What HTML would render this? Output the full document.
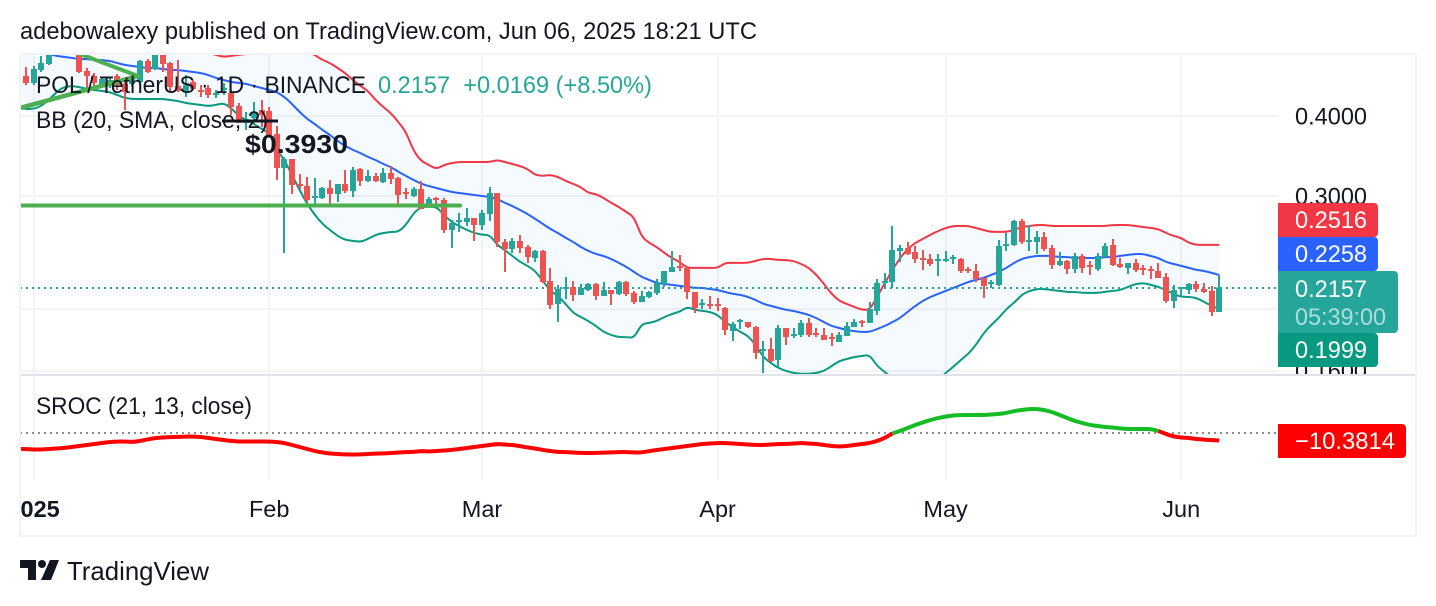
<!DOCTYPE html>
<html lang="en">
<head>
<meta charset="utf-8">
<title>POL / TetherUS chart</title>
<style>
html,body{margin:0;padding:0;background:#fff;width:1436px;height:606px;overflow:hidden}
svg{display:block;font-family:"Liberation Sans",sans-serif}
text{white-space:pre}
</style>
</head>
<body>
<svg id="root" xmlns="http://www.w3.org/2000/svg" width="1436" height="606" viewBox="0 0 1436 606">
  <defs>
    <clipPath id="clip-price"><rect x="20" y="55" width="1258" height="319"/></clipPath>
    <clipPath id="clip-osc"><rect x="20" y="376" width="1258" height="104"/></clipPath>
    <clipPath id="clip-axis-price"><rect x="1278" y="55" width="138" height="319"/></clipPath>
    <clipPath id="clip-axis-time"><rect x="20" y="482" width="1258" height="52"/></clipPath>
  </defs>

  <rect x="0" y="0" width="1436" height="606" fill="#ffffff"/>
  <text x="20" y="39" font-size="24" fill="#131722" textLength="737" lengthAdjust="spacingAndGlyphs">adebowalexy published on TradingView.com, Jun 06, 2025 18:21 UTC</text>

  <g id="grid"></g>
  <g id="bands" clip-path="url(#clip-price)"></g>
  <line id="lastLine" x1="20" x2="1278" stroke="#26a69a" stroke-width="2" stroke-dasharray="2 4"/>
  <g id="candles" clip-path="url(#clip-price)"></g>

  <g clip-path="url(#clip-price)">
    <line x1="20" y1="205.5" x2="460" y2="205.5" stroke="#4caf50" stroke-width="4" stroke-linecap="round"/>
    <line x1="20" y1="108" x2="138" y2="76" stroke="#4caf50" stroke-width="4.5" stroke-linecap="round"/>
    <line x1="80" y1="54" x2="138" y2="76" stroke="#4caf50" stroke-width="4" stroke-linecap="round"/>
    <line x1="222" y1="121" x2="278" y2="121" stroke="#131722" stroke-width="3"/>
    <text x="245" y="153" font-size="26" font-weight="700" fill="#131722" textLength="103" lengthAdjust="spacingAndGlyphs">$0.3930</text>
  </g>

  <g>
    <text x="36" y="93" font-size="24" fill="#131722" textLength="330" lengthAdjust="spacingAndGlyphs">POL / TetherUS · 1D · BINANCE</text>
    <text x="378" y="93" font-size="24" fill="#26a69a" textLength="274" lengthAdjust="spacingAndGlyphs">0.2157  +0.0169 (+8.50%)</text>
    <text x="36" y="128" font-size="24" fill="#131722" textLength="232" lengthAdjust="spacingAndGlyphs">BB (20, SMA, close, 2)</text>
  </g>

  <line x1="20" y1="433" x2="1278" y2="433" stroke="#8a8d96" stroke-width="2" stroke-dasharray="2 4"/>
  <g id="osc" clip-path="url(#clip-osc)"></g>
  <text x="36" y="414" font-size="24" fill="#131722" textLength="216" lengthAdjust="spacingAndGlyphs">SROC (21, 13, close)</text>

  <rect x="20" y="374" width="1397" height="2" fill="#e0e3eb"/>
  <g fill="#f3f3f4">
    <rect x="19" y="53" width="1398" height="2"/>
    <rect x="19" y="53" width="2" height="484"/>
    <rect x="1415" y="53" width="2" height="484"/>
    <rect x="19" y="535" width="1398" height="2"/>
  </g>

  <g id="priceAxis" clip-path="url(#clip-axis-price)"></g>
  <g id="timeAxis" clip-path="url(#clip-axis-time)"></g>

  <g font-size="24" fill="#ffffff">
    <g>
      <path d="M1278 203H1374a4 4 0 0 1 4 4V233a4 4 0 0 1-4 4H1278Z" fill="#f23645"/>
      <text x="1295" y="228" textLength="72" lengthAdjust="spacingAndGlyphs">0.2516</text>
    </g>
    <g>
      <path d="M1278 237H1374a4 4 0 0 1 4 4V267a4 4 0 0 1-4 4H1278Z" fill="#2962ff"/>
      <text x="1295" y="262" textLength="72" lengthAdjust="spacingAndGlyphs">0.2258</text>
    </g>
    <g>
      <path d="M1278 333H1374a4 4 0 0 1 4 4V363a4 4 0 0 1-4 4H1278Z" fill="#089981"/>
      <text x="1295" y="358" textLength="72" lengthAdjust="spacingAndGlyphs">0.1999</text>
    </g>
    <g>
      <path d="M1278 271H1394a4 4 0 0 1 4 4V329a4 4 0 0 1-4 4H1278Z" fill="#26a69a"/>
      <text x="1295" y="297" textLength="72" lengthAdjust="spacingAndGlyphs">0.2157</text>
      <text x="1295" y="325" fill="#ffffff" fill-opacity="0.62" textLength="91" lengthAdjust="spacingAndGlyphs">05:39:00</text>
    </g>
    <g>
      <path d="M1278 424H1402a4 4 0 0 1 4 4V454a4 4 0 0 1-4 4H1278Z" fill="#ff0000"/>
      <text x="1295" y="449" textLength="100" lengthAdjust="spacingAndGlyphs">−10.3814</text>
    </g>
  </g>

  <g>
    <g fill="#131722">
      <polygon points="20,560 36,560 36,580 28,580 28,568 20,568"/>
      <circle cx="42" cy="564" r="4"/>
      <polygon points="50,560 59,560 51,580 41,580"/>
    </g>
    <text x="67" y="580" font-size="26" fill="#131722" textLength="142" lengthAdjust="spacingAndGlyphs">TradingView</text>
  </g>
</svg>

<script>
const days = [-2,-1,0,1,2,3,4,5,6,7,
8,9,10,11,12,13,14,15,16,17,
18,19,20,21,22,23,24,25,26,27,
28,29,30,31,32,33,34,35,36,37,
38,39,40,41,42,43,44,45,46,47,
48,49,50,51,52,53,54,55,56,57,
58,59,60,61,62,63,64,65,66,67,
68,69,70,71,72,73,74,75,76,77,
78,79,80,81,82,83,84,85,86,87,
88,89,90,91,92,93,94,95,96,97,
98,99,100,101,102,103,104,105,106,107,
108,109,110,111,112,113,114,115,116,117,
118,119,120,121,122,123,124,125,126,127,
128,129,130,131,132,133,134,135,136,137,
138,139,140,141,142,143,144,145,146,147,
148,149,150,151,152,153,154,155,156];

const opens = [.4619,.4619,.4505,.4719,.4823,.5036,.5109,.5181,.5109,.4702,
.4619,.4473,.4456,.4619,.4489,.4489,.4521,.4876,.4736,.5018,
.4841,.4456,.4361,.4521,.4392,.4424,.4330,.4392,.4346,.4147,
.3901,.3971,.4087,.4073,.3750,.3318,.3427,.3133,.3110,.2979,
.2979,.3088,.3021,.3133,.3054,.3306,.3167,.3224,.3156,.3259,
.3201,.3043,.3000,.3076,.2915,.2979,.2957,.2654,.2732,.2732,
.2772,.2703,.2812,.3032,.2543,.2479,.2552,.2497,.2400,.2461,
.2210,.2035,.2147,.2163,.2102,.2139,.2186,.2094,.2139,.2109,
.2202,.2117,.2050,.2087,.2117,.2186,.2283,.2333,.2316,.2124,
.2028,.2035,.2035,.2006,.1845,.1906,.1906,.1872,.1718,.1730,
.1663,.1866,.1813,.1819,.1900,.1832,.1819,.1806,.1774,.1813,
.1872,.1913,.1900,.1984,.2194,.2202,.2461,.2488,.2453,.2400,
.2392,.2375,.2375,.2392,.2392,.2307,.2291,.2234,.2186,.2179,
.2506,.2516,.2742,.2543,.2543,.2589,.2488,.2341,.2375,.2307,
.2418,.2341,.2307,.2409,.2516,.2349,.2316,.2358,.2316,.2307,
.2291,.2242,.2057,.2147,.2139,.2186,.2147,.2132,.1977];

const highs = [.4653,.4771,.4789,.4965,.5072,.5164,.5219,.5219,.5145,.4754,
.4669,.4603,.4586,.4653,.4586,.4619,.4893,.4911,.5072,.5072,
.4858,.4893,.4636,.4553,.4473,.4473,.4392,.4505,.4392,.4192,
.4058,.4207,.4237,.4132,.3860,.3452,.3427,.3248,.3213,.3201,
.3099,.3178,.3133,.3294,.3330,.3318,.3294,.3259,.3318,.3342,
.3213,.3088,.3099,.3167,.2989,.2989,.2979,.2752,.2822,.2873,
.2772,.2852,.3099,.3032,.2570,.2580,.2608,.2516,.2470,.2470,
.2316,.2179,.2242,.2210,.2186,.2194,.2194,.2202,.2139,.2210,
.2210,.2132,.2132,.2132,.2226,.2291,.2461,.2427,.2324,.2124,
.2072,.2094,.2079,.2013,.1906,.1927,.1906,.1879,.1781,.1800,
.1886,.1866,.1866,.1920,.1934,.1866,.1866,.1832,.1839,.1906,
.1927,.1920,.2050,.2226,.2275,.2693,.2516,.2543,.2506,.2470,
.2435,.2435,.2461,.2427,.2400,.2324,.2349,.2234,.2218,.2561,
.2626,.2752,.2762,.2703,.2645,.2636,.2516,.2453,.2383,.2444,
.2435,.2375,.2444,.2534,.2570,.2400,.2358,.2392,.2341,.2333,
.2358,.2275,.2179,.2163,.2194,.2210,.2194,.2171,.2259];

const lows = [.4553,.4473,.4473,.4686,.4806,.5018,.5090,.5072,.4669,.4392,
.4392,.4440,.4424,.4392,.4087,.4456,.4505,.4669,.4719,.4686,
.4361,.4361,.4284,.4392,.4284,.4268,.4268,.4315,.4015,.3901,
.3804,.3943,.3846,.3710,.3178,.2444,.3021,.3076,.2936,.2905,
.2968,.2905,.2936,.3032,.2989,.3110,.3156,.3156,.3144,.3133,
.2915,.2968,.2989,.2863,.2894,.2894,.2626,.2488,.2636,.2693,
.2552,.2654,.2742,.2497,.2283,.2444,.2444,.2358,.2366,.2194,
.1998,.1906,.2072,.2057,.2102,.2132,.2064,.2094,.2028,.2102,
.2094,.2035,.2050,.2079,.2102,.2163,.2283,.2291,.2072,.1970,
.1998,.1998,.1984,.1819,.1781,.1859,.1866,.1669,.1587,.1651,
.1622,.1756,.1800,.1806,.1806,.1806,.1787,.1749,.1774,.1813,
.1872,.1872,.1900,.1956,.2155,.2155,.2366,.2427,.2358,.2299,
.2333,.2250,.2366,.2349,.2275,.2275,.2202,.2079,.2155,.2171,
.2461,.2506,.2525,.2461,.2435,.2461,.2307,.2333,.2267,.2275,
.2275,.2259,.2291,.2409,.2333,.2316,.2267,.2283,.2259,.2226,
.2234,.2042,.2006,.2087,.2109,.2124,.2117,.1948,.1977];

const closes = [.4586,.4505,.4736,.4841,.4983,.5127,.5181,.5109,.4686,.4619,
.4505,.4570,.4553,.4473,.4361,.4586,.4876,.4686,.4983,.4823,
.4440,.4377,.4473,.4408,.4361,.4315,.4346,.4424,.4132,.3901,
.3957,.4058,.4015,.3737,.3318,.3427,.3122,.3110,.2957,.3000,
.3088,.3021,.3133,.3054,.3294,.3167,.3224,.3167,.3259,.3190,
.3011,.3021,.3076,.2863,.2968,.2957,.2654,.2722,.2752,.2772,
.2703,.2822,.3032,.2543,.2479,.2552,.2488,.2409,.2461,.2202,
.2028,.2147,.2163,.2102,.2155,.2186,.2094,.2139,.2109,.2202,
.2109,.2050,.2094,.2124,.2194,.2291,.2324,.2316,.2124,.2006,
.2042,.2020,.2020,.1852,.1893,.1920,.1872,.1706,.1730,.1657,
.1866,.1806,.1826,.1900,.1819,.1819,.1787,.1793,.1819,.1879,
.1906,.1900,.1998,.2194,.2210,.2470,.2488,.2435,.2392,.2383,
.2349,.2392,.2392,.2409,.2291,.2291,.2226,.2171,.2202,.2506,
.2525,.2742,.2543,.2561,.2589,.2479,.2341,.2375,.2307,.2418,
.2316,.2324,.2418,.2506,.2341,.2324,.2358,.2299,.2299,.2291,
.2234,.2057,.2139,.2163,.2186,.2147,.2124,.1977,.2157];

const upperBand = [.5219,.5219,.5238,.5257,.5257,.5257,.5257,.5238,.5219,.5200,
.5181,.5164,.5145,.5127,.5127,.5127,.5127,.5127,.5127,.5127,
.5109,.5109,.5090,.5072,.5054,.5018,.4983,.4947,.4965,.4983,
.5000,.5018,.5054,.5072,.5072,.5072,.5072,.5054,.5036,.4983,
.4893,.4841,.4754,.4669,.4553,.4456,.4377,.4237,.4132,.4044,
.3915,.3777,.3527,.3402,.3354,.3306,.3354,.3378,.3390,.3390,
.3390,.3390,.3390,.3414,.3390,.3366,.3342,.3306,.3236,.3224,
.3236,.3213,.3167,.3133,.3099,.3032,.3021,.2979,.2926,.2884,
.2832,.2782,.2589,.2534,.2497,.2444,.2400,.2366,.2316,.2316,
.2316,.2316,.2316,.2358,.2358,.2358,.2358,.2375,.2392,.2392,
.2383,.2383,.2375,.2349,.2316,.2259,.2186,.2109,.2057,.2035,
.2013,.1991,.1991,.2087,.2194,.2299,.2400,.2479,.2534,.2570,
.2608,.2645,.2674,.2693,.2693,.2693,.2674,.2654,.2636,.2636,
.2636,.2654,.2683,.2693,.2703,.2703,.2693,.2693,.2693,.2693,
.2693,.2693,.2693,.2693,.2703,.2703,.2703,.2693,.2683,.2674,
.2664,.2626,.2598,.2580,.2534,.2516,.2516,.2516,.2516];

const basisBand = [.5127,.5109,.5072,.5036,.5000,.4965,.4947,.4929,.4911,.4911,
.4893,.4893,.4876,.4841,.4806,.4789,.4771,.4754,.4754,.4736,
.4719,.4719,.4702,.4686,.4669,.4636,.4586,.4553,.4521,.4505,
.4489,.4456,.4424,.4392,.4361,.4284,.4177,.4058,.3957,.3887,
.3804,.3737,.3656,.3592,.3540,.3502,.3452,.3414,.3366,.3330,
.3271,.3224,.3178,.3133,.3110,.3088,.3065,.3043,.3032,.3021,
.3011,.3000,.2989,.2968,.2926,.2894,.2852,.2812,.2762,.2713,
.2664,.2626,.2580,.2543,.2497,.2461,.2435,.2418,.2392,.2358,
.2324,.2283,.2242,.2218,.2194,.2186,.2179,.2171,.2163,.2155,
.2155,.2147,.2139,.2124,.2109,.2102,.2087,.2064,.2035,.2020,
.2006,.1991,.1984,.1970,.1956,.1934,.1906,.1879,.1866,.1852,
.1845,.1839,.1839,.1859,.1879,.1906,.1934,.1977,.2020,.2057,
.2087,.2109,.2132,.2155,.2179,.2202,.2218,.2234,.2259,.2283,
.2316,.2358,.2392,.2409,.2418,.2418,.2418,.2409,.2409,.2400,
.2400,.2400,.2400,.2409,.2409,.2418,.2427,.2435,.2435,.2418,
.2400,.2366,.2349,.2333,.2316,.2299,.2291,.2275,.2258];

const lowerBand = [.4117,.4102,.4102,.4147,.4237,.4361,.4440,.4456,.4440,.4408,
.4392,.4377,.4361,.4315,.4268,.4253,.4253,.4253,.4253,.4253,
.4237,.4222,.4192,.4177,.4162,.4147,.4162,.4192,.4117,.4000,
.3943,.3887,.3818,.3764,.3540,.3414,.3236,.3065,.2915,.2802,
.2713,.2654,.2598,.2561,.2552,.2543,.2570,.2608,.2626,.2636,
.2636,.2703,.2822,.2884,.2884,.2884,.2802,.2732,.2693,.2654,
.2626,.2608,.2608,.2516,.2470,.2418,.2366,.2333,.2291,.2210,
.2132,.2094,.2035,.1970,.1941,.1913,.1879,.1839,.1819,.1806,
.1806,.1800,.1893,.1900,.1913,.1941,.1963,.1977,.2013,.1991,
.1984,.1977,.1956,.1906,.1872,.1839,.1813,.1756,.1681,.1645,
.1616,.1598,.1587,.1582,.1582,.1587,.1598,.1627,.1657,.1669,
.1681,.1687,.1694,.1627,.1593,.1553,.1526,.1504,.1488,.1483,
.1493,.1548,.1587,.1622,.1663,.1700,.1756,.1832,.1886,.1934,
.1998,.2042,.2102,.2132,.2147,.2147,.2139,.2132,.2124,.2124,
.2117,.2117,.2117,.2124,.2132,.2139,.2163,.2186,.2194,.2179,
.2163,.2139,.2109,.2087,.2087,.2079,.2050,.2020,.1999];

const srocValues = [-22.2,-22.2,-22.9,-22.9,-22.2,-21.5,-20.8,-19.4,-18.1,-16.7,
-15.3,-13.9,-12.5,-11.8,-11.8,-12.5,-11.1,-9.0,-6.9,-6.3,
-5.6,-5.6,-4.9,-4.9,-5.6,-6.9,-8.3,-9.7,-11.1,-11.8,
-11.8,-11.8,-11.8,-11.8,-12.5,-13.9,-16.7,-19.4,-22.2,-25.0,
-27.1,-28.5,-29.2,-29.9,-29.9,-29.9,-29.2,-28.5,-28.5,-27.8,
-27.1,-26.4,-26.4,-25.0,-25.7,-25.0,-24.3,-23.6,-22.2,-20.8,
-19.4,-18.1,-16.7,-15.3,-16.0,-16.7,-18.1,-20.1,-21.5,-23.6,
-25.0,-26.4,-26.4,-27.1,-27.8,-27.8,-27.8,-27.1,-27.1,-26.4,
-26.4,-27.1,-27.1,-25.0,-23.6,-22.2,-20.8,-19.4,-18.1,-16.7,
-15.3,-14.6,-13.9,-13.9,-14.6,-15.3,-16.0,-16.7,-16.7,-16.0,
-15.3,-15.3,-14.6,-13.9,-14.6,-15.3,-16.7,-18.1,-18.8,-18.1,
-16.7,-15.3,-13.9,-11.1,-6.9,-0.7,2.8,6.9,11.1,14.6,
18.1,20.8,22.9,24.3,25.0,25.0,25.0,25.0,25.7,26.4,
27.8,30.6,31.9,33.3,33.3,31.9,29.2,25.0,20.8,16.7,
13.9,11.1,9.7,8.3,7.6,6.3,5.6,5.6,5.6,5.6,
2.8,-1.4,-4.9,-6.3,-6.9,-8.3,-9.3,-10.0,-10.3814];

const priceTickValues = [0.4, 0.3, 0.2, 0.16];
const priceTickLabels = ["0.4000", "0.3000", "0.2000", "0.1600"];
const timeTickDays = [0, 31, 59, 90, 120, 151];
const timeTickLabels = ["2025", "Feb", "Mar", "Apr", "May", "Jun"];
const lastPrice = 0.2157;

function xAt(day) { return 33.6 + 7.6 * day; }
function yAt(price) { return 116 + 278 * Math.log(0.4 / price); }
function yOsc(value) { return 433 - 0.72 * value; }

const NS = "http://www.w3.org/2000/svg";
function mk(parent, tag, attrs, txt) {
  const el = document.createElementNS(NS, tag);
  for (const k in attrs) el.setAttribute(k, attrs[k]);
  if (txt !== undefined) el.textContent = txt;
  parent.appendChild(el);
  return el;
}
function smoothPath(pts) {
  let d = "M" + pts[0][0].toFixed(1) + " " + pts[0][1].toFixed(1);
  for (let i = 1; i < pts.length - 1; i++) {
    const mx = (pts[i][0] + pts[i + 1][0]) / 2;
    const my = (pts[i][1] + pts[i + 1][1]) / 2;
    d += "Q" + pts[i][0].toFixed(1) + " " + pts[i][1].toFixed(1) + " " + mx.toFixed(1) + " " + my.toFixed(1);
  }
  const last = pts[pts.length - 1];
  return d + "L" + last[0].toFixed(1) + " " + last[1].toFixed(1);
}
function linePath(arr, yFn) {
  return smoothPath(arr.map((v, i) => [xAt(days[i]), yFn(v)]));
}

const grid = document.getElementById("grid");
priceTickValues.forEach(function (p) {
  const el = mk(grid, "rect", {x: 20, y: Math.round(yAt(p)) - 1, width: 1258, height: 2, fill: "#f3f3f4"});
  
  
});
timeTickDays.forEach(function (d) {
  const a = mk(grid, "rect", {x: Math.round(xAt(d)) - 1, y: 55, width: 2, height: 425, fill: "#f3f3f4"});
  
  
});

const bands = document.getElementById("bands");
const upperPts = upperBand.map((v, i) => xAt(days[i]).toFixed(1) + "," + yAt(v).toFixed(1));
const lowerPts = lowerBand.map((v, i) => xAt(days[i]).toFixed(1) + "," + yAt(v).toFixed(1)).reverse();
const fillEl = mk(bands, "polygon", {points: upperPts.concat(lowerPts).join(" "), fill: "#2196f3", "fill-opacity": 0.05});


const basisEl = mk(bands, "path", {d: linePath(basisBand, yAt), fill: "none", stroke: "#2962ff", "stroke-width": 2, "stroke-linejoin": "round"});


const upperEl = mk(bands, "path", {d: linePath(upperBand, yAt), fill: "none", stroke: "#f23645", "stroke-width": 2, "stroke-linejoin": "round"});


const lowerEl = mk(bands, "path", {d: linePath(lowerBand, yAt), fill: "none", stroke: "#089981", "stroke-width": 2, "stroke-linejoin": "round"});



const lastLine = document.getElementById("lastLine");
lastLine.setAttribute("y1", Math.round(yAt(lastPrice)));
lastLine.setAttribute("y2", Math.round(yAt(lastPrice)));

const candles = document.getElementById("candles");
days.forEach(function (d, i) {
  const up = closes[i] >= opens[i];
  const col = up ? "#26a69a" : "#ef5350";
  const cx = Math.round(xAt(d));
  const top = yAt(Math.max(opens[i], closes[i]));
  const bot = yAt(Math.min(opens[i], closes[i]));
  const g = mk(candles, "g", {"shape-rendering": "crispEdges"});
  
  
  const w = mk(g, "rect", {x: cx - 1, y: yAt(highs[i]).toFixed(1), width: 2, height: (yAt(lows[i]) - yAt(highs[i])).toFixed(1), fill: col});
  
  
  const b = mk(g, "rect", {x: cx - 3, y: top.toFixed(1), width: 6, height: Math.max(2, bot - top).toFixed(1), fill: col});
  
  
});

const osc = document.getElementById("osc");
let runStart = 0;
for (let i = 1; i < srocValues.length; i++) {
  const pos = srocValues[i] >= 0;
  const nextDiff = i + 1 < srocValues.length && (srocValues[i + 1] >= 0) !== pos;
  if (nextDiff || i === srocValues.length - 1) {
    const pts = [];
    for (let j = runStart; j <= i; j++) {
      pts.push([xAt(days[j]), yOsc(srocValues[j])]);
    }
    const seg = mk(osc, "path", {d: smoothPath(pts), fill: "none", stroke: pos ? "#14bd24" : "#ff0000", "stroke-width": 4, "stroke-linejoin": "round", "stroke-linecap": "butt"});
    
    
    runStart = i;
  }
}

const priceAxis = document.getElementById("priceAxis");
priceTickValues.forEach(function (p, i) {
  const t = mk(priceAxis, "text", {x: 1295, y: (yAt(p) + 8.5).toFixed(1), "font-size": 24, fill: "#131722", textLength: 72, lengthAdjust: "spacingAndGlyphs"}, priceTickLabels[i]);
  
  
});

const timeAxis = document.getElementById("timeAxis");
timeTickDays.forEach(function (d, i) {
  const isYear = timeTickLabels[i] === "2025";
  const t = mk(timeAxis, "text", {x: xAt(d).toFixed(1), y: 517, "font-size": 23.5, "text-anchor": "middle", fill: "#131722", "font-weight": isYear ? 700 : 400}, timeTickLabels[i]);
  
  
});
</script>
</body>
</html>
